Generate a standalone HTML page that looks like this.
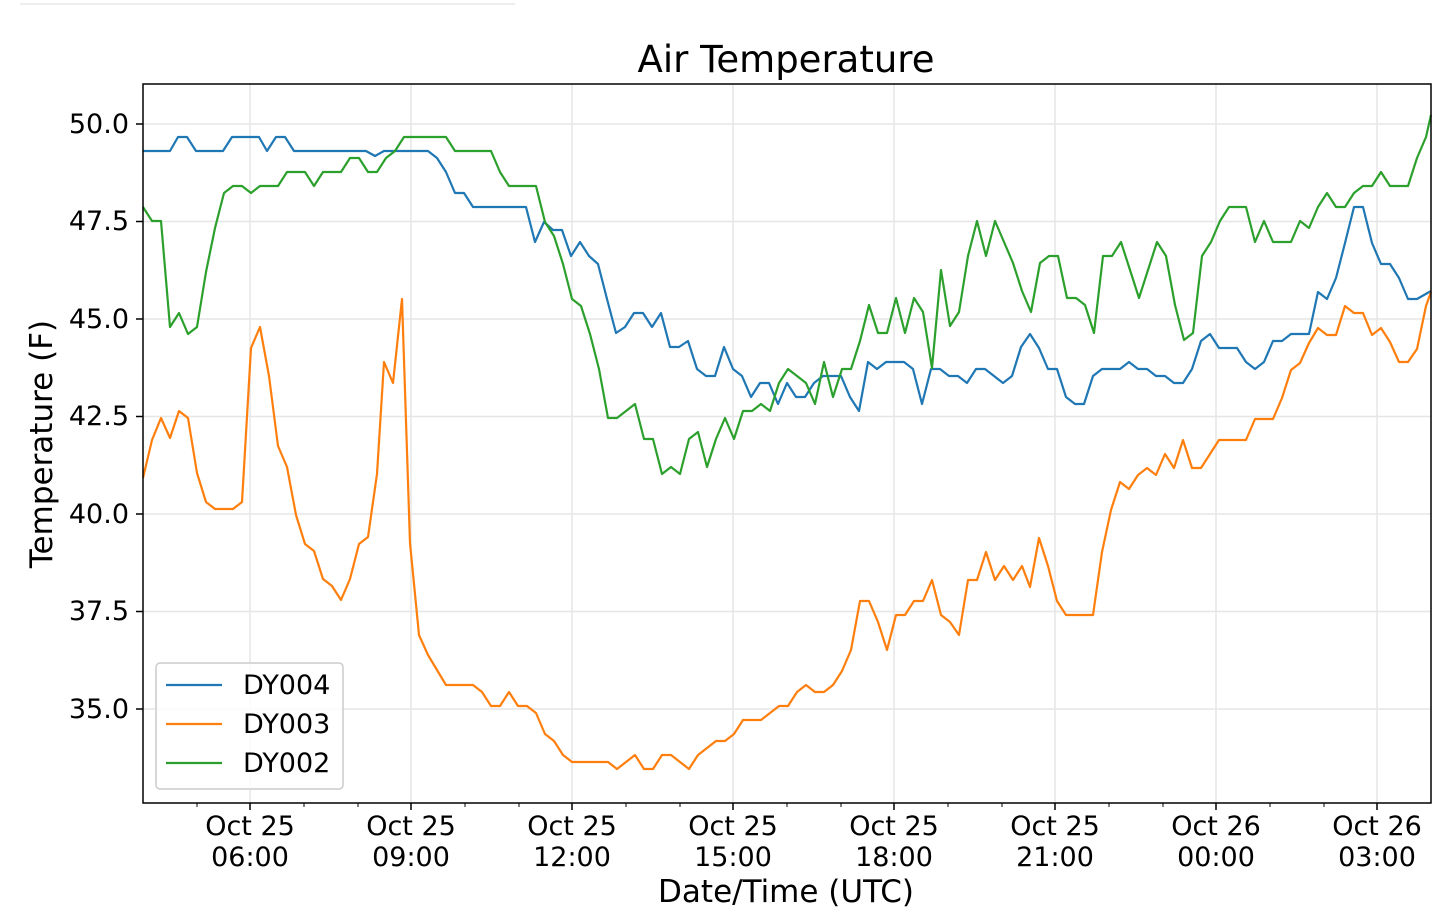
<!DOCTYPE html>
<html><head><meta charset="utf-8"><style>
html,body{margin:0;padding:0;background:#fff;}
svg{display:block;font-family:"DejaVu Sans","Liberation Sans",sans-serif;}
</style></head><body>
<svg width="1433" height="924" viewBox="0 0 1433 924" xmlns="http://www.w3.org/2000/svg">
<line x1="20" y1="4" x2="515" y2="4" stroke="#eee" stroke-width="2"/>
<text x="786" y="72" font-size="37" text-anchor="middle" fill="#000">Air Temperature</text>
<g stroke="#e6e6e6" stroke-width="1.5">
<line x1="143" y1="124" x2="1431" y2="124"/><line x1="143" y1="221.5" x2="1431" y2="221.5"/><line x1="143" y1="319" x2="1431" y2="319"/><line x1="143" y1="416.5" x2="1431" y2="416.5"/><line x1="143" y1="514" x2="1431" y2="514"/><line x1="143" y1="611.5" x2="1431" y2="611.5"/><line x1="143" y1="709" x2="1431" y2="709"/>
<line x1="250" y1="84" x2="250" y2="803"/><line x1="411" y1="84" x2="411" y2="803"/><line x1="572" y1="84" x2="572" y2="803"/><line x1="733" y1="84" x2="733" y2="803"/><line x1="894" y1="84" x2="894" y2="803"/><line x1="1055" y1="84" x2="1055" y2="803"/><line x1="1216" y1="84" x2="1216" y2="803"/><line x1="1377" y1="84" x2="1377" y2="803"/>
</g>
<g fill="none" stroke-width="2.2" stroke-linejoin="round">
<polyline stroke="#1f77b4" points="143,151 170,151 178,137 187,137 196,151 223,151 232,137 259,137 267,151 276,137 285,137 294,151 366,151 375,156 384,151 428,151 437,158 446,172 455,193 464,193 473,207 526,207 535,242 544,222 553,230 562,230 571,256 580,242 589,256 598,264 607,299 616,333 625,327 634,313 643,313 652,327 661,313 670,347 679,347 688,341 697,369 706,376 715,376 724,347 733,369 742,376 751,397 760,383 769,383 778,404 787,383 796,397 805,397 814,383 823,376 832,376 841,376 850,397 859,411 868,362 877,369 886,362 904,362 913,369 922,404 931,369 940,369 949,376 958,376 967,383 976,369 985,369 994,376 1003,383 1012,376 1021,347 1030,334 1039,348 1048,369 1057,369 1066,397 1075,404 1084,404 1093,376 1102,369 1120,369 1129,362 1138,369 1147,369 1156,376 1165,376 1174,383 1183,383 1192,369 1201,341 1210,334 1219,348 1237,348 1246,362 1255,369 1264,362 1273,341 1282,341 1291,334 1309,334 1318,292 1327,299 1336,278 1345,243 1354,207 1363,207 1372,243 1381,264 1390,264 1399,278 1408,299 1417,299 1431,291"/>
<polyline stroke="#ff7f0e" points="143,478 152,440 161,418 170,438 179,411 188,418 197,473 206,502 215,509 233,509 242,502 251,348 260,327 269,376 278,446 287,467 296,515 305,544 314,551 323,579 332,586 341,600 350,579 359,544 368,537 377,474 384,362 393,383 402,299 410,543 419,635 428,655 437,670 446,685 473,685 482,692 491,706 500,706 509,692 518,706 527,706 536,713 545,734 554,741 563,755 572,762 608,762 617,769 626,762 635,755 644,769 653,769 662,755 671,755 680,762 689,769 698,755 707,748 716,741 725,741 734,734 743,720 761,720 770,713 779,706 788,706 797,692 806,685 815,692 824,692 833,685 842,671 851,650 860,601 869,601 878,622 887,650 896,615 905,615 914,601 923,601 932,580 941,615 950,622 959,635 968,580 977,580 986,552 995,580 1004,566 1013,580 1022,566 1030,587 1039,538 1048,566 1057,601 1066,615 1093,615 1102,552 1111,510 1120,482 1129,489 1138,475 1147,468 1156,475 1165,454 1174,468 1183,440 1192,468 1201,468 1210,454 1219,440 1246,440 1255,419 1264,419 1273,419 1282,398 1291,370 1300,363 1309,343 1318,328 1327,335 1336,335 1345,306 1354,313 1363,313 1372,335 1381,328 1390,342 1399,362 1408,362 1417,349 1426,306 1431,292"/>
<polyline stroke="#2ca02c" points="143,207 152,221 161,221 170,327 179,313 188,334 197,327 206,272 215,228 224,193 233,186 242,186 251,193 260,186 278,186 287,172 305,172 314,186 323,172 341,172 350,158 359,158 368,172 377,172 386,158 395,151 404,137 446,137 455,151 491,151 500,172 509,186 536,186 545,222 554,236 563,264 572,299 581,306 590,334 599,369 608,418 617,418 626,411 635,404 644,439 653,439 662,474 671,467 680,474 689,439 698,432 707,467 716,439 725,418 734,439 743,411 752,411 761,404 770,411 779,383 788,369 797,376 806,383 815,404 824,362 833,397 842,369 851,369 860,341 869,305 878,333 887,333 896,298 905,333 914,298 923,312 932,368 941,270 950,326 959,312 968,256 977,221 986,256 995,221 1004,242 1013,263 1022,291 1031,312 1040,263 1049,256 1058,256 1067,298 1076,298 1085,305 1094,333 1103,256 1112,256 1121,242 1130,270 1139,298 1148,270 1157,242 1166,256 1175,305 1184,340 1193,333 1202,256 1211,242 1220,221 1229,207 1246,207 1255,242 1264,221 1273,242 1291,242 1300,221 1309,228 1318,207 1327,193 1336,207 1345,207 1354,193 1363,186 1372,186 1381,172 1390,186 1408,186 1417,158 1426,137 1431,115"/>
</g>
<rect x="143" y="84" width="1288" height="719" fill="none" stroke="#000" stroke-width="1.5"/>
<g stroke="#000" stroke-width="1.5">
<line x1="136" y1="124" x2="143" y2="124"/><line x1="136" y1="221.5" x2="143" y2="221.5"/><line x1="136" y1="319" x2="143" y2="319"/><line x1="136" y1="416.5" x2="143" y2="416.5"/><line x1="136" y1="514" x2="143" y2="514"/><line x1="136" y1="611.5" x2="143" y2="611.5"/><line x1="136" y1="709" x2="143" y2="709"/>
<line x1="250" y1="803" x2="250" y2="810"/><line x1="411" y1="803" x2="411" y2="810"/><line x1="572" y1="803" x2="572" y2="810"/><line x1="733" y1="803" x2="733" y2="810"/><line x1="894" y1="803" x2="894" y2="810"/><line x1="1055" y1="803" x2="1055" y2="810"/><line x1="1216" y1="803" x2="1216" y2="810"/><line x1="1377" y1="803" x2="1377" y2="810"/>
</g>
<g stroke="#000" stroke-width="1">
<line x1="197" y1="803" x2="197" y2="807"/><line x1="304" y1="803" x2="304" y2="807"/><line x1="358" y1="803" x2="358" y2="807"/><line x1="465" y1="803" x2="465" y2="807"/><line x1="519" y1="803" x2="519" y2="807"/><line x1="626" y1="803" x2="626" y2="807"/><line x1="680" y1="803" x2="680" y2="807"/><line x1="787" y1="803" x2="787" y2="807"/><line x1="841" y1="803" x2="841" y2="807"/><line x1="948" y1="803" x2="948" y2="807"/><line x1="1002" y1="803" x2="1002" y2="807"/><line x1="1109" y1="803" x2="1109" y2="807"/><line x1="1163" y1="803" x2="1163" y2="807"/><line x1="1270" y1="803" x2="1270" y2="807"/><line x1="1324" y1="803" x2="1324" y2="807"/>
</g>
<g font-size="27" text-anchor="end" fill="#000">
<text x="129" y="133">50.0</text><text x="129" y="230">47.5</text><text x="129" y="328">45.0</text><text x="129" y="425">42.5</text><text x="129" y="523">40.0</text><text x="129" y="620">37.5</text><text x="129" y="718">35.0</text>
</g>
<g font-size="27" text-anchor="middle" fill="#000">
<text x="250" y="835">Oct 25</text><text x="250" y="866">06:00</text>
<text x="411" y="835">Oct 25</text><text x="411" y="866">09:00</text>
<text x="572" y="835">Oct 25</text><text x="572" y="866">12:00</text>
<text x="733" y="835">Oct 25</text><text x="733" y="866">15:00</text>
<text x="894" y="835">Oct 25</text><text x="894" y="866">18:00</text>
<text x="1055" y="835">Oct 25</text><text x="1055" y="866">21:00</text>
<text x="1216" y="835">Oct 26</text><text x="1216" y="866">00:00</text>
<text x="1377" y="835">Oct 26</text><text x="1377" y="866">03:00</text>
<text x="786" y="902" font-size="31">Date/Time (UTC)</text>
</g>
<text transform="translate(52,444) rotate(-90)" font-size="31" text-anchor="middle" fill="#000">Temperature (F)</text>
<rect x="156" y="663" width="187" height="126" rx="4" fill="#fff" fill-opacity="0.85" stroke="#ccc" stroke-width="1.5"/>
<line x1="166" y1="685" x2="222" y2="685" stroke="#1f77b4" stroke-width="2.2"/>
<line x1="166" y1="724" x2="222" y2="724" stroke="#ff7f0e" stroke-width="2.2"/>
<line x1="166" y1="763" x2="222" y2="763" stroke="#2ca02c" stroke-width="2.2"/>
<g font-size="27" fill="#000"><text x="243" y="694">DY004</text><text x="243" y="733">DY003</text><text x="243" y="772">DY002</text></g>
</svg>
</body></html>
